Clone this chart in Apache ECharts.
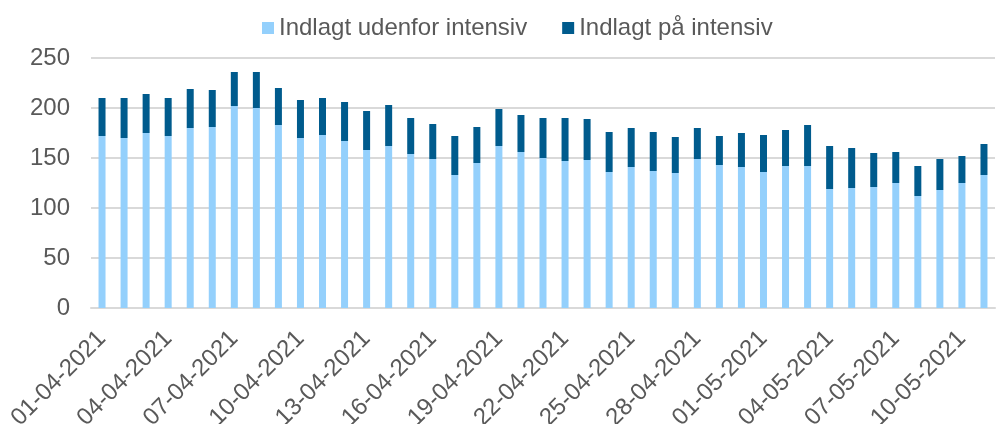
<!DOCTYPE html>
<html>
<head>
<meta charset="utf-8">
<script src="https://cdn.jsdelivr.net/npm/echarts@6/dist/echarts.min.js"></script>
<style>
  html, body { margin: 0; padding: 0; background: #fff; }
  #chart { width: 998px; height: 424px; }
</style>
</head>
<body>
<div id="chart"></div>
<script>
// datoer 01-04-2021 .. 11-05-2021
const dates = [
  '01-04-2021', '02-04-2021', '03-04-2021', '04-04-2021', '05-04-2021', '06-04-2021', '07-04-2021',
  '08-04-2021', '09-04-2021', '10-04-2021', '11-04-2021', '12-04-2021', '13-04-2021', '14-04-2021',
  '15-04-2021', '16-04-2021', '17-04-2021', '18-04-2021', '19-04-2021', '20-04-2021', '21-04-2021',
  '22-04-2021', '23-04-2021', '24-04-2021', '25-04-2021', '26-04-2021', '27-04-2021', '28-04-2021',
  '29-04-2021', '30-04-2021', '01-05-2021', '02-05-2021', '03-05-2021', '04-05-2021', '05-05-2021',
  '06-05-2021', '07-05-2021', '08-05-2021', '09-05-2021', '10-05-2021', '11-05-2021'
];
const udenforIntensiv = [
  172, 170, 175, 172, 180, 181, 202, 200, 183, 170, 173, 167, 158, 162,
  154, 149, 133, 145, 162, 156, 150, 147, 148, 136, 141, 137, 135, 149,
  143, 141, 136, 142, 142, 119, 120, 121, 125, 112, 118, 125, 133
];
const paaIntensiv = [
  38, 40, 39, 38, 39, 37, 34, 36, 37, 38, 37, 39, 39, 41,
  36, 35, 39, 36, 37, 37, 40, 43, 41, 40, 39, 39, 36, 31,
  29, 34, 37, 36, 41, 43, 40, 34, 31, 30, 31, 27, 31
];
const yTicks = [0, 50, 100, 150, 200, 250];

const textColor = '#595959';
const font = 'Liberation Sans, Arial, sans-serif';

const chart = echarts.init(document.getElementById('chart'));
chart.setOption({
  animation: false,
  textStyle: { fontFamily: font },
  legend: {
    top: 11,
    left: 257,
    itemWidth: 12,
    itemHeight: 12,
    itemGap: 35,
    icon: 'rect',
    textStyle: { color: textColor, fontSize: 24, fontFamily: font },
    data: ['Indlagt udenfor intensiv', 'Indlagt på intensiv']
  },
  grid: {
    left: 91,
    right: 3,
    top: 58,
    bottom: 116,
    containLabel: false,
    outerBoundsMode: 'none'
  },
  xAxis: {
    type: 'category',
    data: dates,
    axisTick: { show: false },
    axisLine: { lineStyle: { color: '#d9d9d9', width: 2 } },
    axisLabel: {
      interval: 2,
      rotate: 45,
      margin: 27,
      color: textColor,
      fontSize: 24,
      fontFamily: font
    }
  },
  yAxis: {
    type: 'value',
    min: yTicks[0],
    max: yTicks[yTicks.length - 1],
    interval: 50,
    axisLine: { show: false },
    axisTick: { show: false },
    splitLine: { lineStyle: { color: '#d9d9d9', width: 2 } },
    axisLabel: {
      margin: 21,
      color: textColor,
      fontSize: 24,
      fontFamily: font
    }
  },
  series: [
    {
      name: 'Indlagt udenfor intensiv',
      type: 'bar',
      stack: 'total',
      barWidth: 7,
      itemStyle: { color: '#94d0fc' },
      data: udenforIntensiv
    },
    {
      name: 'Indlagt på intensiv',
      type: 'bar',
      stack: 'total',
      barWidth: 7,
      itemStyle: { color: '#005b8d' },
      data: paaIntensiv
    }
  ]
});
</script>
</body>
</html>
